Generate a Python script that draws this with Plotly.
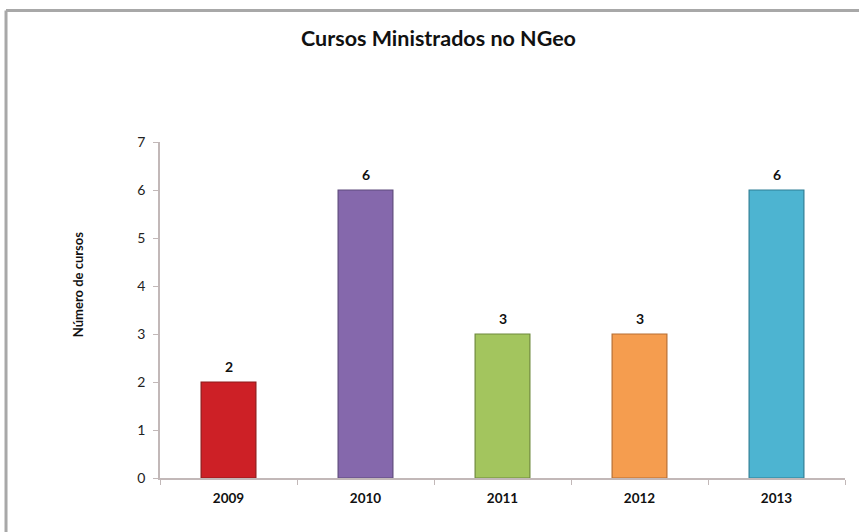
import plotly.graph_objects as go

# Courses taught per year
anos = ["2009", "2010", "2011", "2012", "2013"]
cursos = [2, 6, 3, 3, 6]
cores = ["#CD2026", "#8568AC", "#A3C55E", "#F59D4F", "#4DB4D1"]
bordas = ["#8E1A1A", "#5E4A7C", "#6F8A3C", "#B86F33", "#2F7F95"]

FONT = "Lato"

fig = go.Figure(
    go.Bar(
        x=anos,
        y=cursos,
        width=0.4,
        marker=dict(color=cores, line=dict(color=bordas, width=1.2)),
        cliponaxis=False,
    )
)

# Value labels above each bar (category axis positions are indices)
for i, valor in enumerate(cursos):
    fig.add_annotation(
        x=i, y=valor, text=str(valor),
        showarrow=False, yanchor="middle", yshift=16,
        font=dict(family=FONT, size=14, color="#111111", weight="bold"),
    )

# Chart frame (left and top edges)
frame_x = -0.2248
frame_y = 1.3914
frame = dict(color="#A8A8A8", width=3)
fig.add_shape(type="line", xref="paper", yref="paper",
              x0=frame_x, x1=frame_x, y0=-0.2, y1=frame_y, line=frame)
fig.add_shape(type="line", xref="paper", yref="paper",
              x0=frame_x, x1=1.05, y0=frame_y, y1=frame_y, line=frame)

# Vertical axis title
fig.add_annotation(
    text="Número de cursos",
    xref="paper", yref="paper",
    x=-0.1197, y=0.574,
    xanchor="center", yanchor="middle",
    textangle=-90,
    showarrow=False,
    font=dict(family=FONT, size=13, color="#111111", weight="bold"),
)

fig.update_layout(
    width=859,
    height=532,
    margin=dict(l=160, r=14, t=142, b=54),
    paper_bgcolor="white",
    plot_bgcolor="white",
    showlegend=False,
    title=dict(
        text="Cursos Ministrados no NGeo",
        x=0.5105,
        xanchor="center",
        y=0.9276,
        yanchor="middle",
        font=dict(family=FONT, size=21.5, color="#111111", weight="bold"),
    ),
    xaxis=dict(
        type="category",
        range=[-0.5, len(anos) - 0.5],
        showline=True,
        linecolor="#C2B8B8",
        linewidth=1.5,
        ticks="outside",
        tickson="boundaries",
        ticklen=5,
        tickcolor="#C2B8B8",
        ticklabelstandoff=7,
        tickfont=dict(family=FONT, size=13.5, color="#111111", weight="bold"),
        showgrid=False,
    ),
    yaxis=dict(
        range=[0, 7],
        dtick=1,
        showline=True,
        linecolor="#C2B8B8",
        linewidth=1.5,
        ticks="outside",
        ticklen=5,
        tickcolor="#C2B8B8",
        ticklabelstandoff=5,
        tickfont=dict(family=FONT, size=14, color="#222222"),
        showgrid=False,
        zeroline=False,
    ),
    bargap=0.6,
)

fig.write_html("out.html")
